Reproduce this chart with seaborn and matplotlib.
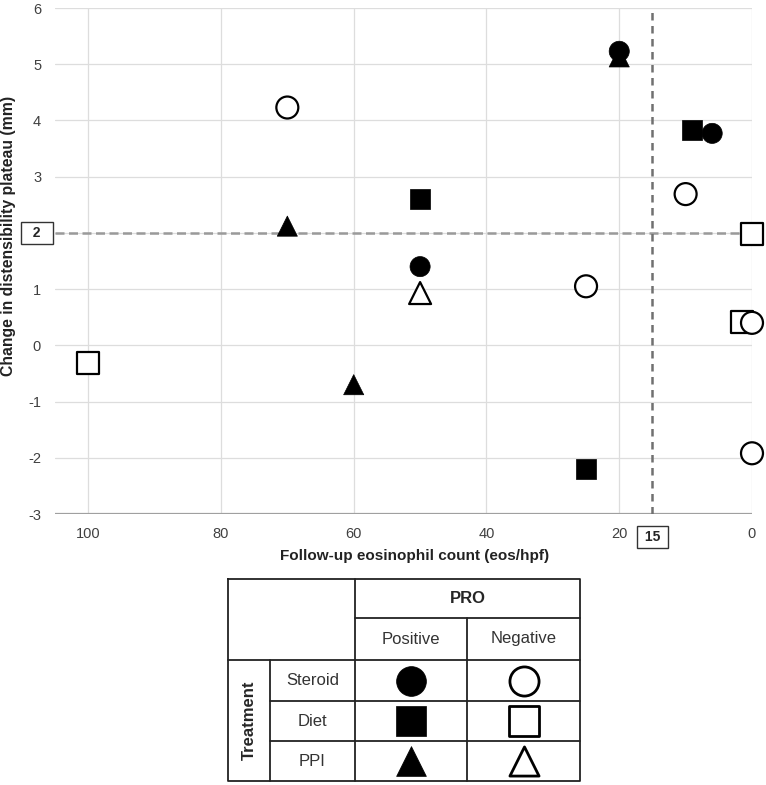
import matplotlib
matplotlib.use("Agg")
import matplotlib.pyplot as plt
import seaborn as sns
import pandas as pd

# ---- data ----
eos_count = [70, 70, 20, 20, 9, 6, 10, 0, 50, 50, 50, 25, 1.5, 0, 0, 25, 100, 60]
dist_change = [4.23, 2.12, 5.23, 5.13, 3.83, 3.77, 2.69, 1.98, 2.6, 1.4, 0.93, 1.05, 0.42, 0.4, -1.92, -2.2, -0.32, -0.7]
treatment = ["Steroid", "PPI", "Steroid", "PPI", "Diet", "Steroid", "Steroid", "Diet", "Diet", "Steroid",
             "PPI", "Steroid", "Diet", "Steroid", "Steroid", "Diet", "Diet", "PPI"]
pro = ["Negative", "Positive", "Positive", "Positive", "Positive", "Positive", "Negative", "Negative",
       "Positive", "Positive", "Negative", "Negative", "Negative", "Negative", "Negative", "Positive",
       "Negative", "Positive"]
x_ticks = [100, 80, 60, 40, 20, 0]
y_ticks = [6, 5, 4, 3, 1, 0, -1, -2, -3]
eos_threshold = 15
dist_threshold = 2
treatments = ["Steroid", "Diet", "PPI"]
pro_levels = ["Positive", "Negative"]

df = pd.DataFrame({"eos": eos_count, "dist": dist_change, "Treatment": treatment, "PRO": pro})
marker_map = {"Steroid": "o", "Diet": "s", "PPI": "^"}

sns.set_style("white")
plt.rcParams["font.family"] = ["Liberation Sans", "DejaVu Sans"]
plt.rcParams["axes.unicode_minus"] = False

W, H = 766, 785
fig = plt.figure(figsize=(W / 100, H / 100), dpi=100)
ax = fig.add_axes([55 / W, 1 - 514 / H, (752 - 55) / W, (514 - 8) / H])

# grid
for xv in x_ticks:
    ax.axvline(xv, color="#dddddd", lw=0.9, zorder=0)
for yv in range(-3, 7):
    ax.axhline(yv, color="#dddddd", lw=0.9, zorder=0)
ax.axhline(-3, color="#a0a0a0", lw=1.6, zorder=1)

# thresholds
ax.axhline(dist_threshold, color="#9a9a9a", lw=1.8, dashes=(3.6, 1.8), zorder=1)
ax.axvline(eos_threshold, color="#707070", lw=1.8, dashes=(3.0, 2.2), zorder=1)

pos = df[df["PRO"] == "Positive"]
neg = df[df["PRO"] == "Negative"]
sns.scatterplot(data=pos, x="eos", y="dist", style="Treatment", markers=marker_map,
                color="black", edgecolor="black", s=210, linewidth=0.5, legend=False, ax=ax,
                zorder=3, clip_on=False)
sns.scatterplot(data=neg, x="eos", y="dist", style="Treatment", markers=marker_map,
                color="white", edgecolor="black", s=250, linewidth=1.6, legend=False, ax=ax,
                zorder=3, clip_on=False)

ax.set_xlim(105, 0)
ax.set_ylim(-3, 6)
ax.set_xticks(x_ticks)
ax.set_yticks(y_ticks)
ax.tick_params(axis="both", length=0, labelsize=10.5, labelcolor="#404040")
ax.tick_params(axis="x", pad=9)
ax.tick_params(axis="y", pad=10)
for s in ax.spines.values():
    s.set_visible(False)
ax.set_xlabel("Follow-up eosinophil count (eos/hpf)", fontsize=11, fontweight="bold", color="#222222")
ax.set_ylabel("Change in distensibility plateau (mm)", fontsize=11.3, fontweight="bold", color="#222222")
ax.xaxis.set_label_coords(0.516, -0.069)
ax.yaxis.set_label_coords(-0.056, 0.549)

box = dict(boxstyle="square,pad=0.3", fc="white", ec="#333333", lw=1.0)
ax.text(-0.026, dist_threshold, "  " + str(dist_threshold) + "  ", transform=ax.get_yaxis_transform(),
        ha="center", va="center", fontsize=10, fontweight="bold", bbox=box)
ax.text(eos_threshold, -0.045, " " + str(eos_threshold) + " ", transform=ax.get_xaxis_transform(),
        ha="center", va="center", fontsize=10, fontweight="bold", bbox=box)

# ---- legend table ----
tx = fig.add_axes([0, 0, 1, 1])
tx.set_xlim(0, W)
tx.set_ylim(H, 0)
tx.axis("off")
L, R, T, B = 228, 580, 579, 781
c1, c2, c3 = 270, 355, 467
r1, r2, r3, r4 = 618, 660, 701, 741
lc = "#222222"
lw = 1.3
tx.plot([L, R, R, L, L], [T, T, B, B, T], color=lc, lw=lw)
tx.plot([c2, c2], [T, B], color=lc, lw=lw)
tx.plot([c3, c3], [r1, B], color=lc, lw=lw)
tx.plot([c1, c1], [r2, B], color=lc, lw=lw)
tx.plot([c2, R], [r1, r1], color=lc, lw=lw)
tx.plot([L, R], [r2, r2], color=lc, lw=lw)
tx.plot([c1, R], [r3, r3], color=lc, lw=lw)
tx.plot([c1, R], [r4, r4], color=lc, lw=lw)

fs = 12
tx.text((c2 + R) / 2, (T + r1) / 2, "PRO", ha="center", va="center", fontsize=fs, fontweight="bold")
tx.text((c2 + c3) / 2, (r1 + r2) / 2, pro_levels[0], ha="center", va="center", fontsize=fs, color="#333333")
tx.text((c3 + R) / 2, (r1 + r2) / 2, pro_levels[1], ha="center", va="center", fontsize=fs, color="#333333")
tx.text((L + c1) / 2, (r2 + B) / 2, "Treatment", ha="center", va="center", rotation=90,
        fontsize=fs, fontweight="bold")
row_centers = [(r2 + r3) / 2, (r3 + r4) / 2, (r4 + B) / 2]
for name, yc in zip(treatments, row_centers):
    tx.text((c1 + c2) / 2, yc, name, ha="center", va="center", fontsize=fs, color="#333333")
    m = marker_map[name]
    tx.scatter([(c2 + c3) / 2], [yc], marker=m, s=460, c="black", edgecolors="black", linewidths=0.5)
    tx.scatter([(c3 + R) / 2], [yc], marker=m, s=440, c="white", edgecolors="black", linewidths=2.0)

fig.savefig("out.png", dpi=100)
